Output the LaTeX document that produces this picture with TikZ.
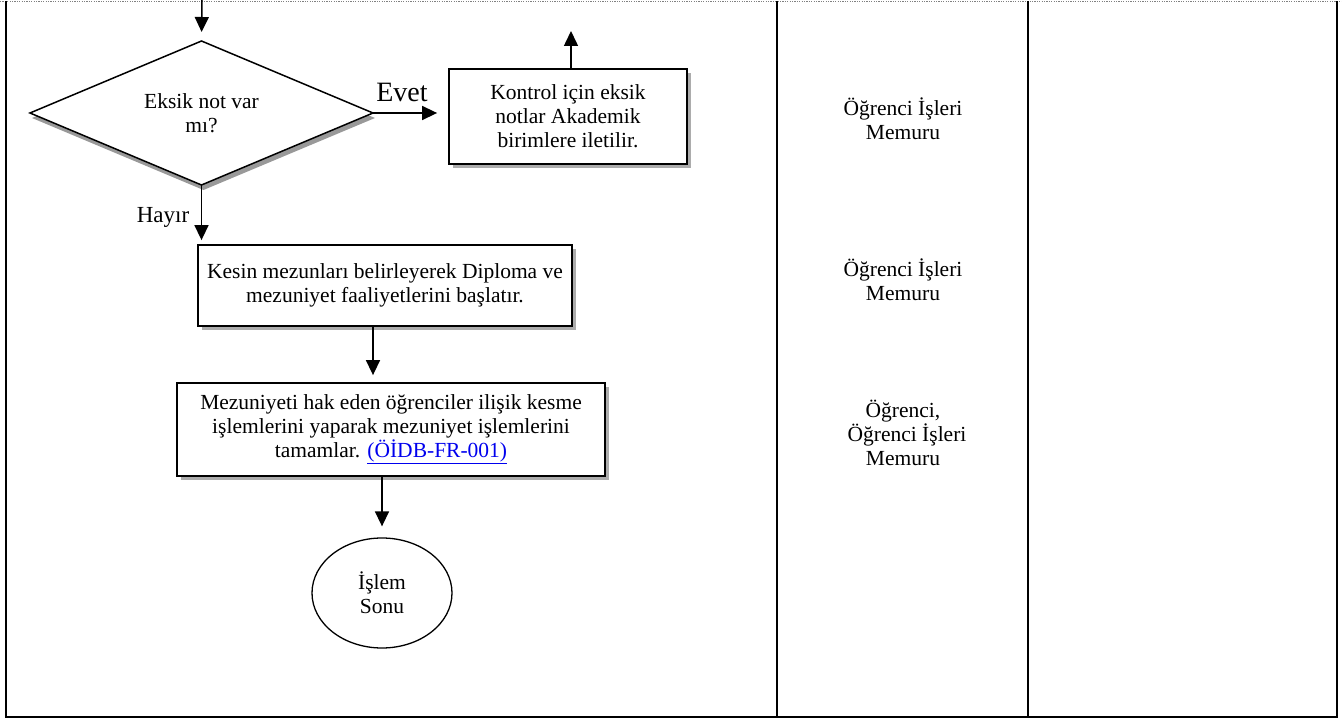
\documentclass[tikz,border=0pt]{standalone}
\usepackage{fontspec}
\setmainfont{Liberation Serif}
\usetikzlibrary{arrows.meta,shapes.geometric,shadows}
\definecolor{linkblue}{RGB}{0,0,238}
\newcommand{\fnorm}{\fontsize{21.5}{24}\selectfont}
\begin{document}
\begin{tikzpicture}[x=1pt,y=-1pt,
  frame/.style={line width=1.7pt},
  arr/.style={line width=1.5pt,-{Triangle[length=15pt,width=14pt]}},
  shad/.style={drop shadow={shadow xshift=4pt,shadow yshift=-4pt,fill=gray!65,opacity=1}},
  procbox/.style={draw,line width=1.8pt,fill=white,align=center,font=\fnorm,inner sep=0pt,shad},
  decision/.style={draw,diamond,shape aspect=2.4,line width=1.5pt,fill=white,align=center,font=\fnorm,inner sep=0pt,outer sep=0pt,
    drop shadow={shadow xshift=2pt,shadow yshift=-5pt,fill=gray!80,opacity=1}},
  terminal/.style={draw,ellipse,line width=1.3pt,fill=white,align=center,font=\fnorm,inner sep=0pt},
  lbl/.style={font=\fnorm,inner sep=0pt},
  role/.style={font=\fnorm,align=center,inner sep=0pt}]
\useasboundingbox (0,0) rectangle (1342,722);
% table frame
\draw[gray,line width=0.8pt,dash pattern=on 1.2pt off 1.2pt] (0,1) -- (1342,1);
\draw[frame] (6,1) -- (6,717) -- (1337,717) -- (1337,1);
\draw[frame] (777,1) -- (777,717);
\draw[frame] (1028,1) -- (1028,717);
% nodes
\coordinate (topin) at (202,0);
\node[decision,minimum width=343pt,minimum height=144pt] (d) at (201.5,113) {Eksik not var\\mı?};
\node[procbox,minimum width=238pt,minimum height=95pt] (b1) at (568,116.5) {Kontrol için eksik\\notlar Akademik\\birimlere iletilir.};
\coordinate (b1up) at (571,31);
\node[procbox,minimum width=374pt,minimum height=81pt] (b2) at (385,285.5) {Kesin mezunları belirleyerek Diploma ve\\mezuniyet faaliyetlerini başlatır.};
\coordinate (c23) at (373,350);
\node[procbox,minimum width=428pt,minimum height=93pt] (b3) at (391,429.5) {Mezuniyeti hak eden öğrenciler ilişik kesme\\işlemlerini yaparak mezuniyet işlemlerini\\tamamlar. {\color{linkblue}\underline{(ÖİDB-FR-001)}}};
\node[terminal,minimum width=140pt,minimum height=110pt] (e) at (382,593) {İşlem\\Sonu};
\node[lbl,font=\fontsize{28}{30}\selectfont] (evet) at (402,92) {Evet};
\node[lbl,font=\fontsize{23}{25}\selectfont] (hayir) at (163,217) {Hayır};
% roles
\node[role] (r1) at (903,119) {Öğrenci İşleri\\Memuru};
\node[role] (r2) at (903,280) {Öğrenci İşleri\\Memuru};
\node[role] (r3) at (903,433) {Öğrenci,\\\hspace*{8pt}Öğrenci İşleri\\Memuru};
% connectors
\draw[arr,shorten >=9pt] (topin) -- (d.north);
\draw[arr,shorten >=11pt] (d.east) -- (d.east -| b1.west);
\draw[arr] (b1.north -| b1up) -- (b1up);
\draw[arr,shorten >=4pt] (d.south) -- (d.south |- b2.north);
\draw[arr,shorten >=7pt] (b2.south -| c23) -- (b3.north -| c23);
\draw[arr,shorten >=11pt] (b3.south -| e.north) -- (e.north);
\end{tikzpicture}
\end{document}
